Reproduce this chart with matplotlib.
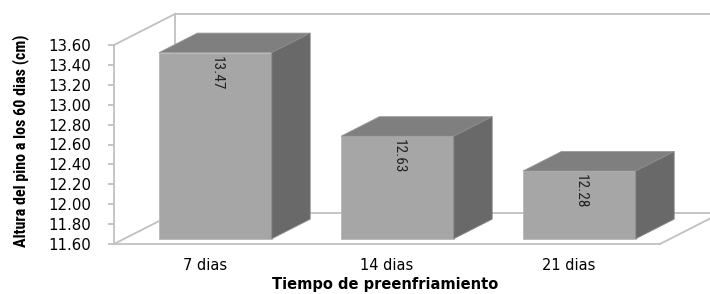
import matplotlib.pyplot as plt
from matplotlib.patches import Polygon

categorias = ["7 dias", "14 dias", "21 dias"]
alturas = [13.47, 12.63, 12.28]

y_min, y_max = 11.60, 13.60
y_ticks = [11.6 + 0.2 * i for i in range(11)]

# pseudo 3D settings (in data units)
DX, DY = 0.335, 0.312     # depth vector of the floor
shift, prof = 0.17, 0.63  # bar offset into depth / bar depth
ancho = 0.62

c_front = "#a6a6a6"
c_top = "#7f7f7f"
c_side = "#696969"
c_wall = "#c0c0c0"
narrow = ["Roboto Condensed", "Roboto", "DejaVu Sans"]

fig = plt.figure(figsize=(7.1, 2.94), dpi=100)
ax = fig.add_axes([114 / 710, 1 - 244 / 294, 546 / 710, 199 / 294])
ax.set_xlim(-0.5, len(categorias) - 0.5)
ax.set_ylim(y_min, y_max)

x0, x1 = -0.5, len(categorias) - 0.5
wall_kw = dict(color=c_wall, lw=1.3, clip_on=False, zorder=1)
# back wall + floor
ax.plot([x0 + DX, x0 + DX], [y_min + DY, y_max + DY], **wall_kw)
ax.plot([x0 + DX, x1 + DX], [y_max + DY, y_max + DY], **wall_kw)
ax.plot([x0 + DX, x1 + DX], [y_min + DY, y_min + DY], **wall_kw)
ax.plot([x0, x0 + DX], [y_max, y_max + DY], **wall_kw)
ax.plot([x0, x0 + DX], [y_min, y_min + DY], **wall_kw)
ax.plot([x1, x1 + DX], [y_min, y_min + DY], **wall_kw)

xs = range(len(categorias))
base = y_min + shift * DY
lefts = [x + shift * DX - ancho / 2 for x in xs]
tops = [v + shift * DY for v in alturas]

ax.bar([l + ancho / 2 for l in lefts], [t - base for t in tops], width=ancho,
       bottom=base, color=c_front, edgecolor="#b8b8b8", lw=0.6, zorder=3)

for l, t, v in zip(lefts, tops, alturas):
    r = l + ancho
    dx, dy = prof * DX, prof * DY
    ax.add_patch(Polygon([(l, t), (r, t), (r + dx, t + dy), (l + dx, t + dy)],
                         closed=True, fc=c_top, ec="#9a9a9a", lw=0.6,
                         clip_on=False, zorder=3))
    ax.add_patch(Polygon([(r, base), (r + dx, base + dy), (r + dx, t + dy), (r, t)],
                         closed=True, fc=c_side, ec="#8a8a8a", lw=0.6,
                         clip_on=False, zorder=3))
    ax.text(l + ancho / 2 + 0.01, t - 0.03, f"{v:.2f}", rotation=-90, ha="center",
            va="top", fontsize=11, family=narrow, color="#222222", zorder=4)

for s in ["top", "right"]:
    ax.spines[s].set_visible(False)
ax.spines["left"].set_color(c_wall)
ax.spines["bottom"].set_color(c_wall)
ax.spines["left"].set_linewidth(1.3)
ax.spines["bottom"].set_linewidth(1.3)

ax.set_yticks(y_ticks)
ax.set_yticklabels([f"{t:.2f}" for t in y_ticks], fontsize=10.8)
ax.tick_params(axis="y", length=4.5, color=c_wall, width=1.3, pad=12)
ax.set_xticks(list(xs))
ax.set_xticklabels(categorias, fontsize=10.5)
ax.tick_params(axis="x", length=0, pad=10)

ax.set_ylabel("Altura del pino a los 60 dias (cm)", fontsize=11.5, fontweight="bold",
              family=narrow)
ax.yaxis.set_label_coords(-0.155, 0.52)
ax.set_xlabel("Tiempo de preenfriamiento", fontsize=10.5, fontweight="bold")
ax.xaxis.set_label_coords(0.496, -0.165)

fig.savefig("out.png", dpi=100)
